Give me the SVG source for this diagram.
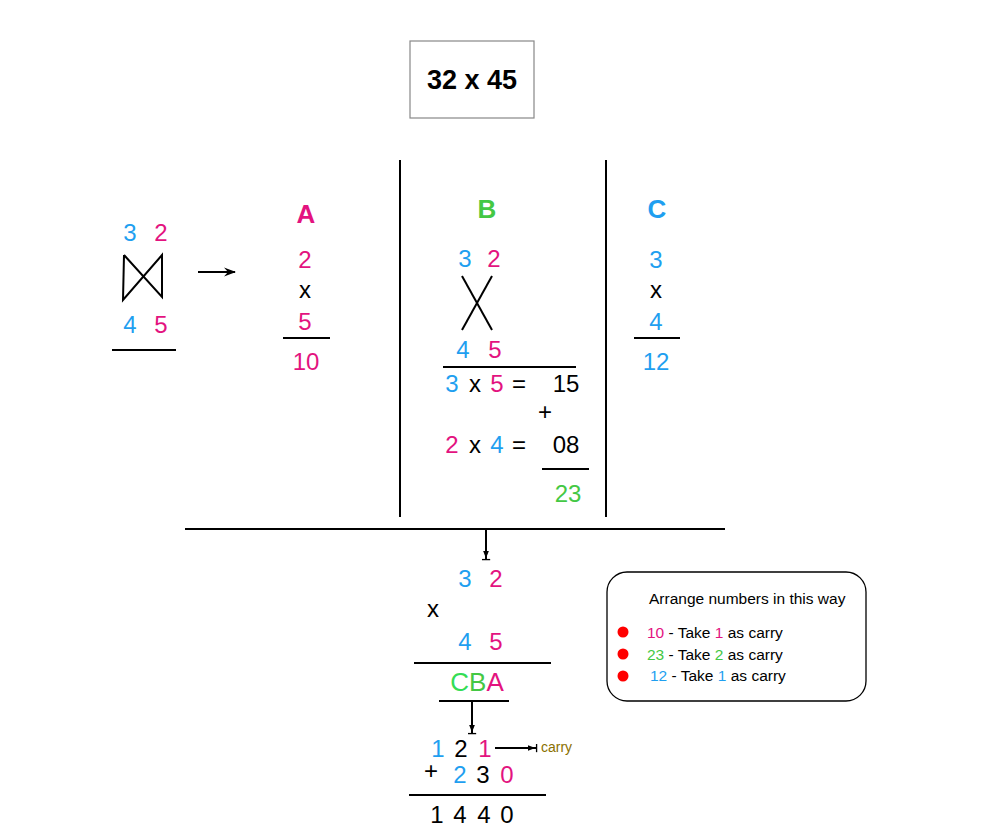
<svg xmlns="http://www.w3.org/2000/svg" width="1005" height="837" viewBox="0 0 1005 837">
<style>
text{font-family:"Liberation Sans",Arial,sans-serif;}
.n{font-size:24px;text-anchor:middle;}
.h{font-size:26px;font-weight:bold;text-anchor:middle;}
.b{fill:#1f9ff0;}
.p{fill:#e3137f;}
.g{fill:#44c844;}
.k{fill:#000;}
.ln{stroke:#000;stroke-width:2;fill:none;}
.s{font-size:15.5px;}
</style>
<defs>
<marker id="ah" viewBox="0 0 12 10" refX="11" refY="5" markerWidth="12" markerHeight="10" markerUnits="userSpaceOnUse" orient="auto">
<path d="M0,0.5 L12,5 L0,9.5 L4,5 Z" fill="#000"/>
</marker>
<marker id="ab" viewBox="0 0 12 10" refX="11" refY="5" markerWidth="10" markerHeight="9" markerUnits="userSpaceOnUse" orient="auto">
<path d="M0,1.5 L9,5 L0,8.5 Z" fill="#000"/>
<path d="M10.5,0 L10.5,10" stroke="#000" stroke-width="1.6"/>
</marker>
</defs>
<rect width="1005" height="837" fill="#fff"/>

<g id="title">
<rect x="410" y="41" width="124" height="77" fill="#fff" stroke="#888" stroke-width="1.2"/>
<text x="472" y="89" class="h" style="font-size:27px">32 x 45</text>
</g>

<g id="left-setup">
<text x="130" y="241" class="n b">3</text>
<text x="161" y="241" class="n p">2</text>
<path class="ln" d="M124,255 L123,300 L162,255 L162,297 L124,255"/>
<text x="130" y="333" class="n b">4</text>
<text x="161" y="333" class="n p">5</text>
<line class="ln" x1="112" y1="350" x2="176" y2="350"/>
</g>

<g id="step-a">
<text x="306" y="223" class="h p">A</text>
<text x="305" y="268" class="n p">2</text>
<text x="305" y="298" class="n k">x</text>
<text x="305" y="330" class="n p">5</text>
<line class="ln" x1="283" y1="338" x2="330" y2="338"/>
<text x="306" y="370" class="n p">10</text>
</g>

<g id="step-b">
<text x="487" y="218" class="h g">B</text>
<text x="465" y="267" class="n b">3</text>
<text x="494" y="267" class="n p">2</text>
<line class="ln" x1="462" y1="276" x2="492" y2="330"/>
<line class="ln" x1="492" y1="276" x2="462" y2="330"/>
<text x="463" y="358" class="n b">4</text>
<text x="495" y="358" class="n p">5</text>
<line class="ln" x1="443" y1="367" x2="576" y2="367"/>
<text x="452" y="392" class="n b">3</text>
<text x="475" y="392" class="n k">x</text>
<text x="497" y="392" class="n p">5</text>
<text x="519" y="392" class="n k">=</text>
<text x="566" y="392" class="n k">15</text>
<text x="545" y="420" class="n k">+</text>
<text x="452" y="453" class="n p">2</text>
<text x="475" y="453" class="n k">x</text>
<text x="497" y="453" class="n b">4</text>
<text x="519" y="453" class="n k">=</text>
<text x="566" y="453" class="n k">08</text>
<line class="ln" x1="542" y1="469" x2="589" y2="469"/>
<text x="568" y="502" class="n g">23</text>
</g>

<g id="step-c">
<text x="657" y="218" class="h b">C</text>
<text x="656" y="268" class="n b">3</text>
<text x="656" y="298" class="n k">x</text>
<text x="656" y="330" class="n b">4</text>
<line class="ln" x1="634" y1="338" x2="680" y2="338"/>
<text x="656" y="370" class="n b">12</text>
</g>

<g id="arrangement">
<text x="465" y="587" class="n b">3</text>
<text x="496" y="587" class="n p">2</text>
<text x="433" y="617" class="n k">x</text>
<text x="465" y="650" class="n b">4</text>
<text x="496" y="650" class="n p">5</text>
<line class="ln" x1="414" y1="663" x2="551" y2="663"/>
<text x="477" y="691" style="font-size:26px;text-anchor:middle"><tspan fill="#33dd55">C</tspan><tspan fill="#44c844">B</tspan><tspan fill="#e3137f">A</tspan></text>
<line class="ln" x1="439" y1="701" x2="509" y2="701"/>
</g>

<g id="result">
<text x="438" y="757" class="n b">1</text>
<text x="461" y="757" class="n k">2</text>
<text x="485" y="757" class="n p">1</text>
<text x="541" y="752" style="font-size:14px;fill:#8a7000">carry</text>
<text x="431" y="779" class="n k">+</text>
<text x="460" y="783" class="n b">2</text>
<text x="483" y="783" class="n k">3</text>
<text x="507" y="783" class="n p">0</text>
<line class="ln" x1="409" y1="795" x2="546" y2="795"/>
<text x="437" y="823" class="n k">1</text>
<text x="460" y="823" class="n k">4</text>
<text x="484" y="823" class="n k">4</text>
<text x="507" y="823" class="n k">0</text>
</g>

<g id="note">
<rect x="607" y="572" width="259" height="129" rx="20" fill="#fff" stroke="#000" stroke-width="1.3"/>
<text x="649" y="604" class="s">Arrange numbers in this way</text>
<circle cx="623" cy="632" r="5.5" fill="#f00"/>
<circle cx="623" cy="654" r="5.5" fill="#f00"/>
<circle cx="623" cy="676" r="5.5" fill="#f00"/>
<text x="647" y="638" class="s"><tspan fill="#e3137f">10</tspan> - Take <tspan fill="#e3137f">1</tspan> as carry</text>
<text x="647" y="660" class="s"><tspan fill="#44c844">23</tspan> - Take <tspan fill="#44c844">2</tspan> as carry</text>
<text x="650" y="681" class="s"><tspan fill="#1f9ff0">12</tspan> - Take <tspan fill="#1f9ff0">1</tspan> as carry</text>
</g>

<g id="connectors">
<line class="ln" x1="198" y1="272" x2="235" y2="272" stroke-width="2.5" marker-end="url(#ah)"/>
<line class="ln" x1="400" y1="160" x2="400" y2="517"/>
<line class="ln" x1="606" y1="160" x2="606" y2="517"/>
<line class="ln" x1="185" y1="529" x2="725" y2="529"/>
<line class="ln" x1="486" y1="529" x2="486" y2="560" stroke-width="1.5" marker-end="url(#ab)"/>
<line class="ln" x1="472" y1="701" x2="472" y2="734" stroke-width="1.5" marker-end="url(#ab)"/>
<line class="ln" x1="495" y1="748" x2="537" y2="748" stroke-width="1.5" marker-end="url(#ab)"/>
</g>
</svg>
